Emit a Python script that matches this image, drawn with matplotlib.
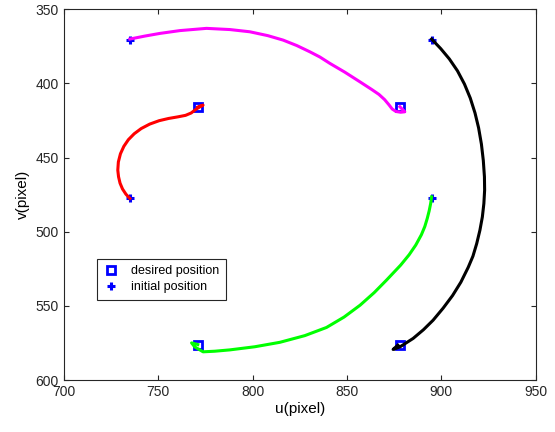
import matplotlib.pyplot as plt

plt.rcParams['font.family'] = ['Liberation Sans', 'DejaVu Sans']

# desired / initial feature positions (pixel)
desired_u = [771, 878, 771, 878]
desired_v = [416, 416, 576, 576]
initial_u = [735, 895, 735, 895]
initial_v = [371, 371, 477, 477]

# trajectories
red_u = [735.0, 732.9, 731.1, 729.8, 729.0, 728.6, 728.9, 730.0, 731.8, 734.2, 737.3, 741.0,
         745.5, 750.5, 755.5, 760.5, 764.5, 767.5, 769.5, 771.5, 773.8, 771.0]
red_v = [477.6, 474.7, 471.2, 467.3, 463.0, 458.5, 453.0, 447.5, 442.5, 438.0, 434.0, 430.5,
         427.5, 425.2, 423.7, 422.6, 421.6, 420.0, 418.0, 416.3, 414.7, 416.0]

mag_u = [735.0, 742.9, 750.9, 761.5, 775.6, 788.0, 798.6, 808.1, 816.2, 823.5, 830.4, 835.7,
         841.0, 848.9, 856.9, 863.2, 867.0, 870.0, 872.3, 874.0, 876.0, 878.5, 880.7, 878.1]
mag_v = [370.2, 368.2, 366.4, 364.5, 363.0, 363.8, 365.3, 367.9, 370.9, 374.6, 378.8, 382.3,
         386.6, 392.5, 399.0, 404.2, 407.5, 411.0, 414.5, 417.3, 419.0, 419.5, 419.2, 415.8]

blk_u = [894.9, 899.7, 904.3, 908.6, 912.3, 915.4, 917.9, 919.8, 921.3, 922.3, 922.9, 923.0,
         922.6, 921.8, 920.5, 918.8, 916.8, 914.3, 910.4, 906.0, 901.0, 895.7, 890.6, 885.1,
         878.1, 874.5, 877.0]
blk_v = [370.2, 376.6, 383.6, 391.6, 400.5, 410.0, 420.0, 430.0, 441.0, 452.0, 463.0, 472.0,
         481.0, 490.0, 499.0, 508.0, 516.5, 524.0, 534.0, 543.0, 551.5, 559.6, 566.0, 571.9,
         577.6, 579.3, 576.4]

grn_u = [894.9, 894.4, 893.6, 892.6, 891.3, 889.5, 886.5, 883.0, 878.5, 871.0, 864.5, 857.0,
         848.5, 839.2, 827.7, 814.5, 801.2, 788.0, 780.0, 773.8, 769.4, 767.7, 771.0]
grn_v = [476.5, 481.0, 486.0, 491.0, 496.5, 502.0, 509.0, 515.5, 522.5, 532.6, 541.0, 549.5,
         557.5, 564.5, 570.0, 574.5, 577.5, 579.6, 580.5, 580.9, 577.6, 574.9, 576.0]

fig = plt.figure(figsize=(5.55, 4.32), dpi=100)
ax = fig.add_axes([0.115, 0.12, 0.85, 0.859])

ax.plot(desired_u, desired_v, 's', ms=5.5, mfc='white', mec='blue', mew=2,
        label='desired position', zorder=2)
ax.plot(initial_u, initial_v, '+', ms=6, color='blue', mew=2.2,
        label='initial position', zorder=2)

ax.plot(red_u, red_v, color='red', lw=2.2, zorder=3)
ax.plot(mag_u, mag_v, color='magenta', lw=2.2, zorder=3)
ax.plot(blk_u, blk_v, color='black', lw=2.2, zorder=3)
ax.plot(grn_u, grn_v, color='#00ff00', lw=2.2, zorder=3)

ax.set_xlim(700, 950)
ax.set_ylim(600, 350)
ax.set_xticks(range(700, 951, 50))
ax.set_yticks(range(350, 601, 50))
ax.tick_params(direction='in', top=True, right=True, labelsize=10, colors='#262626')
for s in ax.spines.values():
    s.set_color('#262626')
ax.set_xlabel('u(pixel)', fontsize=11, labelpad=2)
ax.set_ylabel('v(pixel)', fontsize=11, labelpad=4)

leg = ax.legend(loc='lower left', bbox_to_anchor=(0.07, 0.216), fontsize=9,
                fancybox=False, edgecolor='#262626', framealpha=1, borderaxespad=0,
                borderpad=0.55, handlelength=1.2, handletextpad=1.0, labelspacing=0.3)
leg.get_frame().set_linewidth(0.8)

fig.savefig('out.png', dpi=100)
